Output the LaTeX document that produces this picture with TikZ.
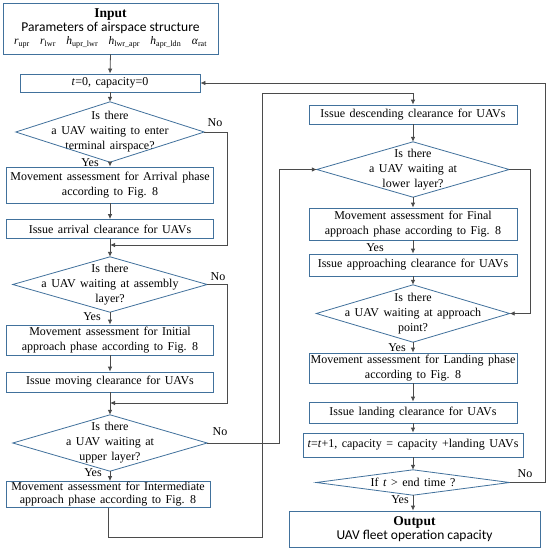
\documentclass[tikz,border=0pt]{standalone}
\usepackage{fontspec}
\setmainfont{Liberation Serif}[WordSpace=1.5]
\newfontfamily\sansf{Carlito}
\usetikzlibrary{arrows.meta}
\definecolor{boxblue}{RGB}{65,113,156}
\definecolor{linegray}{RGB}{75,75,75}
\newcommand{\txtfont}{\fontsize{12}{15}\selectfont}
\tikzset{
  box/.style={draw=boxblue, line width=0.8pt, align=center, inner sep=0pt, font=\txtfont},
  dia/.style={draw=none, align=center, inner sep=0pt, font=\txtfont},
  diaout/.style={draw=boxblue, line width=0.8pt},
  conn/.style={draw=linegray, line width=0.8pt},
  arr/.style={conn, -{Latex[length=5pt,width=4.5pt]}},
  lbl/.style={font=\txtfont, inner sep=0pt}
}
\begin{document}
\begin{tikzpicture}[x=1pt,y=-1pt]
\useasboundingbox[fill=white] (0,0) rectangle (550,552);
% ---------- left column ----------
\node[box, minimum width=215pt, minimum height=51pt] (in) at (110.5,28.5)
  {{\fontsize{13.5}{14}\selectfont\bfseries Input}\\[-1pt]
   {\sansf\fontsize{13.5}{15}\selectfont Parameters of airspace structure}\\[-2pt]
   {\fontsize{11.5}{12}\selectfont\makebox[193pt]{\textit{r}\textsubscript{upr}\hfill
    \textit{r}\textsubscript{lwr}\hfill
    \textit{h}\textsubscript{upr\_lwr}\hfill
    \textit{h}\textsubscript{lwr\_apr}\hfill
    \textit{h}\textsubscript{apr\_ldn}\hfill
    \textit{α}\textsubscript{rat}}}};
\node[box, minimum width=180pt, minimum height=18pt] (t0) at (110,83) {\textit{t}=0, capacity=0};
\node[dia, minimum width=188pt, minimum height=60pt] (d1) at (110,132)
  {Is there\\a UAV waiting to enter\\terminal airspace?};
\node[box, minimum width=207pt, minimum height=36pt] (b1) at (110,185)
  {Movement assessment for Arrival phase\\according to Fig. 8};
\node[box, minimum width=207pt, minimum height=19pt] (b2) at (110,229)
  {Issue arrival clearance for UAVs};
\coordinate (m1) at (110,245);
\node[dia, minimum width=194pt, minimum height=55pt] (d2) at (110,284.5)
  {Is there\\a UAV waiting at assembly\\layer?};
\node[box, minimum width=207pt, minimum height=30pt] (b3) at (110,340)
  {Movement assessment for Initial\\approach phase according to Fig. 8};
\node[box, minimum width=207pt, minimum height=20pt] (b4) at (110,382)
  {Issue moving clearance for UAVs};
\coordinate (m2) at (110,403);
\node[dia, minimum width=194pt, minimum height=56pt] (d3) at (110,443)
  {Is there\\a UAV waiting at\\upper layer?};
\node[box, minimum width=204pt, minimum height=26pt, font=\fontsize{12}{13}\selectfont] (b5) at (108,494.5)
  {Movement assessment for Intermediate\\approach phase according to Fig. 8};
% ---------- right column ----------
\node[box, minimum width=208pt, minimum height=19pt] (desc) at (413,114.5)
  {Issue descending clearance for UAVs};
\node[dia, minimum width=192pt, minimum height=55pt] (d4) at (413,169.5)
  {Is there\\a UAV waiting at\\lower layer?};
\node[box, minimum width=208pt, minimum height=32pt] (b6) at (413,224)
  {Movement assessment for Final\\approach phase according to Fig. 8};
\node[box, minimum width=208pt, minimum height=22pt] (b7) at (413,265)
  {Issue approaching clearance for UAVs};
\node[dia, minimum width=193pt, minimum height=57pt] (d5) at (413,313.5)
  {Is there\\a UAV waiting at approach\\point?};
\node[box, minimum width=208pt, minimum height=30pt] (b8) at (413,368)
  {Movement assessment for Landing phase\\according to Fig. 8};
\node[box, minimum width=208pt, minimum height=21pt] (b9) at (413,412.5)
  {Issue landing clearance for UAVs};
\node[box, minimum width=220pt, minimum height=24pt] (b10) at (413,445)
  {\textit{t}=\textit{t}+1, capacity = capacity +landing UAVs};
\node[dia, minimum width=193pt, minimum height=25pt] (d6) at (413,482.5)
  {If \textit{t} > end time ?};
\node[box, minimum width=251pt, minimum height=36pt] (out) at (414.5,529)
  {{\fontsize{13.5}{14}\selectfont\bfseries Output}\\[-1pt]
   {\sansf\fontsize{13.5}{15}\selectfont UAV fleet operation capacity}};
% diamond outlines
\foreach \d in {d1,d2,d3,d4,d5,d6}
  \draw[diaout] (\d.north) -- (\d.east) -- (\d.south) -- (\d.west) -- cycle;
% ---------- connectors ----------
\draw[arr] (in.south) -- (t0.north);
\draw[arr] (t0.south) -- (d1.north);
\draw[arr] (d1.south) -- (b1.north);
\draw[arr] (b1.south) -- (b2.north);
\draw[conn] (b2.south) -- (m1);
\draw[arr] (m1) -- (d2.north);
\coordinate (c1) at (227,245);
\draw[arr] (d1.east) -| (c1) -- (m1);
\draw[arr] (d2.south) -- (b3.north);
\draw[arr] (b3.south) -- (b4.north);
\draw[conn] (b4.south) -- (m2);
\draw[arr] (m2) -- (d3.north);
\coordinate (c2) at (227,403);
\draw[arr] (d2.east) -| (c2) -- (m2);
\draw[arr] (d3.south) -- (d3.south |- b5.north);
\coordinate (c3) at (262,537);
\coordinate (c4) at (262,93);
\draw[arr] (b5.south) |- (c3) -- (c4) -| (desc.north);
\coordinate (c5) at (279,443);
\draw[arr] (d3.east) -- (c5) |- (d4.west);
\draw[arr] (desc.south) -- (d4.north);
\draw[arr] (d4.south) -- (b6.north);
\draw[arr] (b6.south) -- (b7.north);
\draw[arr] (b7.south) -- (d5.north);
\coordinate (c6) at (530,169.5);
\draw[arr] (d4.east) -- (c6) |- (d5.east);
\draw[arr] (d5.south) -- (b8.north);
\draw[arr] (b8.south) -- (b9.north);
\draw[arr] (b9.south) -- (b10.north);
\draw[arr] (b10.south) -- (d6.north);
\draw[arr] (d6.south) -- (d6.south |- out.north);
\coordinate (c7) at (545,482.5);
\coordinate (c8) at (545,83);
\draw[arr] (d6.east) -- (c7) -- (c8) -- (t0.east);
% ---------- labels ----------
\node[lbl] (no1) at (215,123) {No};
\node[lbl] (no2) at (218,277) {No};
\node[lbl] (no3) at (220,432) {No};
\node[lbl] (no6) at (525,474) {No};
\node[lbl] (yes1) at (90,163) {Yes};
\node[lbl] (yes2) at (92,317) {Yes};
\node[lbl] (yes3) at (93,473) {Yes};
\node[lbl] (yes4) at (375,248) {Yes};
\node[lbl] (yes5) at (397,348) {Yes};
\node[lbl] (yes6) at (400,500) {Yes};
\end{tikzpicture}
\end{document}
